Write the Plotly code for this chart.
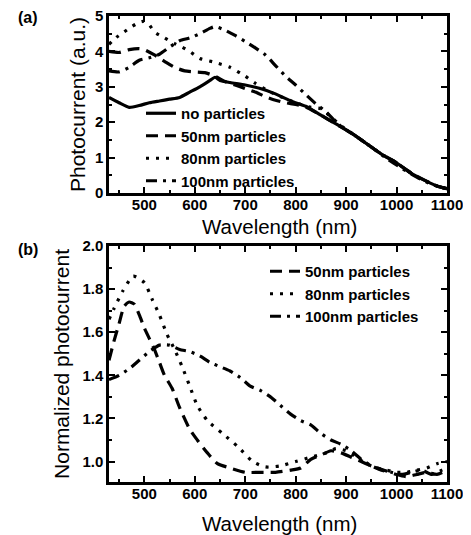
import plotly.graph_objects as go

# ---------------- Panel (a) data ----------------
wl_none = [430, 450, 470, 490, 510, 530, 550, 570, 590, 610, 630, 640, 650, 670, 700, 730, 760, 790, 820, 850, 880, 910, 940, 970, 1000, 1030, 1060, 1080, 1100]
pc_none = [2.70, 2.55, 2.42, 2.47, 2.55, 2.60, 2.65, 2.70, 2.85, 3.00, 3.18, 3.27, 3.18, 3.12, 3.05, 2.95, 2.80, 2.60, 2.45, 2.20, 1.95, 1.70, 1.40, 1.10, 0.85, 0.55, 0.33, 0.20, 0.12]

wl_50a = [430, 450, 470, 490, 500, 520, 540, 560, 580, 600, 620, 640, 660, 680, 700, 720, 740, 760, 780, 800, 820, 850, 880, 910, 940, 970, 1000, 1030, 1060, 1080, 1100]
pc_50a = [4.00, 3.97, 4.05, 4.08, 4.05, 3.90, 3.72, 3.55, 3.45, 3.42, 3.40, 3.30, 3.15, 3.05, 2.95, 2.85, 2.72, 2.62, 2.55, 2.50, 2.43, 2.20, 1.95, 1.70, 1.40, 1.10, 0.85, 0.55, 0.33, 0.20, 0.12]

wl_80a = [430, 445, 460, 475, 490, 500, 510, 520, 540, 560, 575, 590, 610, 640, 670, 700, 720, 750, 800, 830, 850, 870, 890, 910, 940, 970, 1000, 1030, 1060, 1080, 1100]
pc_80a = [4.20, 4.40, 4.55, 4.70, 4.82, 4.85, 4.75, 4.55, 4.38, 4.22, 4.12, 4.00, 3.80, 3.69, 3.55, 3.30, 3.10, 2.85, 2.55, 2.42, 2.38, 2.15, 1.90, 1.70, 1.40, 1.10, 0.85, 0.55, 0.33, 0.20, 0.12]

wl_100a = [430, 450, 470, 490, 510, 530, 550, 570, 590, 610, 630, 640, 660, 680, 700, 720, 740, 760, 780, 800, 820, 840, 860, 880, 900, 920, 950, 980, 1010, 1040, 1070, 1100]
pc_100a = [3.45, 3.42, 3.55, 3.75, 3.82, 3.92, 4.12, 4.30, 4.38, 4.50, 4.65, 4.70, 4.60, 4.45, 4.28, 4.10, 3.90, 3.60, 3.30, 3.05, 2.78, 2.52, 2.30, 2.00, 1.78, 1.60, 1.30, 0.98, 0.70, 0.45, 0.24, 0.12]

# ---------------- Panel (b) data ----------------
wl_50b = [430, 440, 450, 460, 470, 480, 490, 500, 510, 520, 530, 540, 555, 570, 590, 605, 625, 645, 670, 700, 730, 760, 790, 810, 830, 850, 870, 890, 910, 930, 950, 975, 1000, 1020, 1040, 1060, 1080, 1100]
nc_50b = [1.47, 1.56, 1.64, 1.72, 1.74, 1.73, 1.68, 1.62, 1.57, 1.52, 1.46, 1.40, 1.34, 1.25, 1.15, 1.10, 1.04, 0.99, 0.97, 0.95, 0.95, 0.95, 0.96, 0.97, 1.01, 1.03, 1.05, 1.04, 1.02, 1.00, 0.98, 0.96, 0.94, 0.93, 0.94, 0.95, 0.94, 0.96]

wl_80b = [430, 440, 457, 478, 500, 516, 530, 545, 560, 575, 590, 605, 625, 655, 685, 715, 740, 770, 800, 830, 860, 880, 900, 920, 940, 960, 980, 1000, 1020, 1040, 1060, 1080, 1100]
nc_80b = [1.66, 1.71, 1.79, 1.86, 1.83, 1.75, 1.68, 1.59, 1.52, 1.44, 1.35, 1.26, 1.19, 1.13, 1.07, 1.00, 0.975, 0.98, 1.00, 1.02, 1.04, 1.06, 1.05, 1.02, 0.99, 0.97, 0.96, 0.95, 0.95, 0.96, 0.97, 0.99, 1.00]

wl_100b = [430, 450, 470, 490, 510, 530, 550, 570, 590, 610, 630, 650, 670, 690, 710, 730, 750, 770, 790, 810, 830, 850, 870, 890, 910, 930, 950, 970, 990, 1010, 1030, 1050, 1070, 1090, 1100]
nc_100b = [1.38, 1.40, 1.43, 1.47, 1.51, 1.54, 1.54, 1.52, 1.51, 1.49, 1.46, 1.44, 1.42, 1.39, 1.35, 1.33, 1.30, 1.26, 1.22, 1.19, 1.17, 1.13, 1.10, 1.08, 1.05, 1.01, 0.98, 0.96, 0.95, 0.94, 0.95, 0.96, 0.94, 0.96, 0.97]

x_ticks = [500, 600, 700, 800, 900, 1000, 1100]
ya_ticks = [0, 1, 2, 3, 4, 5]
yb_ticks = [1.0, 1.2, 1.4, 1.6, 1.8, 2.0]
yb_labels = ["1.0", "1.2", "1.4", "1.6", "1.8", "2.0"]

FONT = "Liberation Sans, Arial, sans-serif"
DASH = "12px,7px"
DOT = "3px,7px"
DASHDOT = "11px,6px,3px,6px"
LW = 3.2

# The page body has an 8px margin; the figure is sized to fit the window exactly.
OFF = 8
WIN_W, WIN_H = 471, 535
W, H = WIN_W - OFF, WIN_H - OFF
# plot-area edges in window pixels
PL, PR, PT, PB = 109, 447, 16, 482
ML, MR, MT, MB = PL - OFF, W - (PR - OFF), PT - OFF, H - (PB - OFF)
PW = W - ML - MR
PH = H - MT - MB

def yfrac(py):  # window pixel -> paper fraction
    return (PB - py) / PH

def xfrac(px):
    return (px - PL) / PW

fig = go.Figure()

def add(x, y, name, dash, xa, ya, legend):
    fig.add_trace(go.Scatter(x=x, y=y, name=name, mode="lines",
                             line=dict(color="black", width=LW, dash=dash, shape="spline", smoothing=0.6),
                             xaxis=xa, yaxis=ya, legend=legend))

add(wl_none, pc_none, "no particles", "solid", "x", "y", "legend")
add(wl_50a, pc_50a, "50nm particles", DASH, "x", "y", "legend")
add(wl_80a, pc_80a, "80nm particles", DOT, "x", "y", "legend")
add(wl_100a, pc_100a, "100nm particles", DASHDOT, "x", "y", "legend")

add(wl_50b, nc_50b, "50nm particles", DASH, "x2", "y2", "legend2")
add(wl_80b, nc_80b, "80nm particles", DOT, "x2", "y2", "legend2")
add(wl_100b, nc_100b, "100nm particles", DASHDOT, "x2", "y2", "legend2")

tickfont = dict(family=FONT, size=15, color="black", weight="bold")
titlefont = dict(family=FONT, size=20.5, color="black")

common_x = dict(range=[430, 1100], tickvals=x_ticks, ticks="inside", ticklen=6, tickwidth=2,
                showline=True, linewidth=2.5, linecolor="black", mirror="ticks",
                showgrid=False, zeroline=False, tickfont=tickfont, automargin=False,
                ticklabelstandoff=-4, ticklabeloverflow="allow",
                minor=dict(dtick=50, tick0=0, ticks="inside", ticklen=3, tickwidth=1.5, tickcolor="black", showgrid=False),
                tickcolor="black")
common_y = dict(ticks="inside", ticklen=6, tickwidth=2, showline=True, linewidth=2.5, linecolor="black",
                mirror="ticks", showgrid=False, zeroline=False, tickfont=tickfont, tickcolor="black",
                automargin=False, ticklabeloverflow="allow")

legfont = dict(family=FONT, size=15, color="black", weight="bold")

fig.update_layout(
    width=W, height=H,
    margin=dict(l=ML, r=MR, t=MT, b=MB, autoexpand=False),
    paper_bgcolor="white", plot_bgcolor="white",
    font=dict(family=FONT, color="black"),
    xaxis=dict(domain=[0, 1], anchor="y", **common_x),
    yaxis=dict(domain=[yfrac(193), 1.0], anchor="x", range=[0, 5], tickvals=ya_ticks,
               minor=dict(dtick=0.5, ticks="inside", ticklen=3, tickwidth=1.5, tickcolor="black", showgrid=False),
               title=dict(text="Photocurrent (a.u.)", font=dict(family=FONT, size=21, color="black"), standoff=4), **common_y),
    xaxis2=dict(domain=[0, 1], anchor="y2", **common_x),
    yaxis2=dict(domain=[0, yfrac(246)], anchor="x2", range=[0.905, 2.0], tickvals=yb_ticks, ticktext=yb_labels,
                minor=dict(dtick=0.1, tick0=0, ticks="inside", ticklen=3, tickwidth=1.5, tickcolor="black", showgrid=False),
                title=dict(text="Normalized photocurrent", font=dict(family=FONT, size=21, color="black"), standoff=8), **common_y),
    legend=dict(x=xfrac(141), y=yfrac(97), xanchor="left", yanchor="top", bgcolor="rgba(0,0,0,0)",
                font=legfont, tracegroupgap=0, itemwidth=30),
    legend2=dict(x=xfrac(265), y=yfrac(255), xanchor="left", yanchor="top", bgcolor="rgba(0,0,0,0)",
                 font=legfont, tracegroupgap=0, itemwidth=30),
    showlegend=True,
)

anns = []
for txt, px, py in [("(a)", 16, 17), ("(b)", 16, 249)]:
    anns.append(dict(text=txt, x=xfrac(px), y=yfrac(py), xref="paper", yref="paper",
                     xanchor="left", yanchor="middle", showarrow=False,
                     font=dict(family=FONT, size=16, color="black", weight="bold")))
# x-axis titles
for py in (226, 523):
    anns.append(dict(text="Wavelength (nm)", x=xfrac(279), y=yfrac(py), xref="paper", yref="paper",
                     xanchor="center", yanchor="middle", showarrow=False, font=titlefont))
fig.update_layout(annotations=anns)

fig.write_html("out.html")
